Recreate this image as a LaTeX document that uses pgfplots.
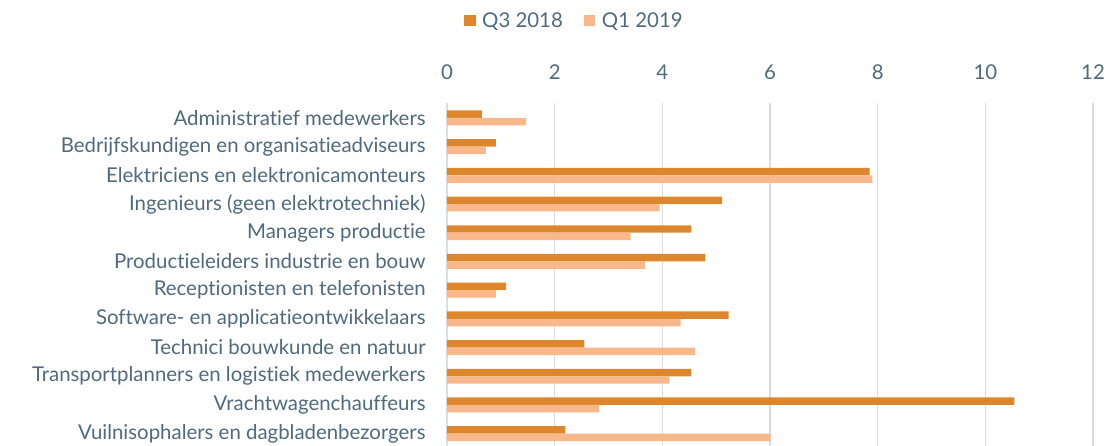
\documentclass[border=0pt]{standalone}
\usepackage{fontspec}
\setmainfont{Lato}[Ligatures=NoCommon]
\usepackage{pgfplots}
\pgfplotsset{compat=1.18}
\definecolor{qthree}{HTML}{DE862B}
\definecolor{qone}{HTML}{F9B78C}
\definecolor{txt}{HTML}{4F6A7E}
\definecolor{gridc}{HTML}{D6DFE6}

\begin{document}
\begin{tikzpicture}
\path[use as bounding box] (0pt,0pt) rectangle (830.25pt,334.5pt);
\begin{axis}[
    at={(335.25pt,257.25pt)}, anchor=north west,
    scale only axis,
    width=484.5pt, height=257.25pt,
    xbar, bar width=0.26,
    xmin=0, xmax=12,
    ymin=-0.52, ymax=11.43,
    y dir=reverse,
    enlargelimits=false,
    xtick={0,2,...,12},
    xticklabel pos=upper,
    ytick={0,...,11},
    yticklabels={Administratief medewerkers,
        Bedrijfskundigen en organisatieadviseurs,
        Elektriciens en elektronicamonteurs,
        Ingenieurs (geen elektrotechniek),
        Managers productie,
        Productieleiders industrie en bouw,
        Receptionisten en telefonisten,
        Software- en applicatieontwikkelaars,
        Technici bouwkunde en natuur,
        Transportplanners en logistiek medewerkers,
        Vrachtwagenchauffeurs,
        Vuilnisophalers en dagbladenbezorgers},
    axis line style={draw=none},
    major tick length=0,
    xmajorgrids, grid style={gridc, line width=1.2pt},
    tick label style={font=\fontsize{15.3}{17}\selectfont, text=txt},
    xticklabel style={yshift=14pt},
    yticklabel style={xshift=-12.5pt},
    /pgf/number format/assume math mode=true,
    legend columns=2,
    legend style={draw=none, fill=none, at={(axis description cs:0.198,1.24)}, anchor=center,
        font=\fontsize{15.3}{17}\selectfont, text=txt,
        /tikz/every odd column/.append style={column sep=3pt},
        /tikz/every even column/.append style={column sep=14pt}},
    legend image code/.code={\fill[#1] (0pt,-3.8pt) rectangle (8.3pt,4.5pt);},
]
\addplot[fill=qthree, draw=none, bar shift=-0.13] coordinates {
    (0.65,0) (0.91,1) (7.85,2) (5.11,3) (4.54,4) (4.80,5)
    (1.10,6) (5.23,7) (2.55,8) (4.54,9) (10.54,10) (2.20,11)
};
\addlegendentry{Q3 2018}
\addplot[fill=qone, draw=none, bar shift=0.13] coordinates {
    (1.47,0) (0.72,1) (7.90,2) (3.95,3) (3.41,4) (3.68,5)
    (0.91,6) (4.34,7) (4.61,8) (4.13,9) (2.83,10) (6.01,11)
};
\addlegendentry{Q1 2019}
\end{axis}
\end{tikzpicture}
\end{document}
